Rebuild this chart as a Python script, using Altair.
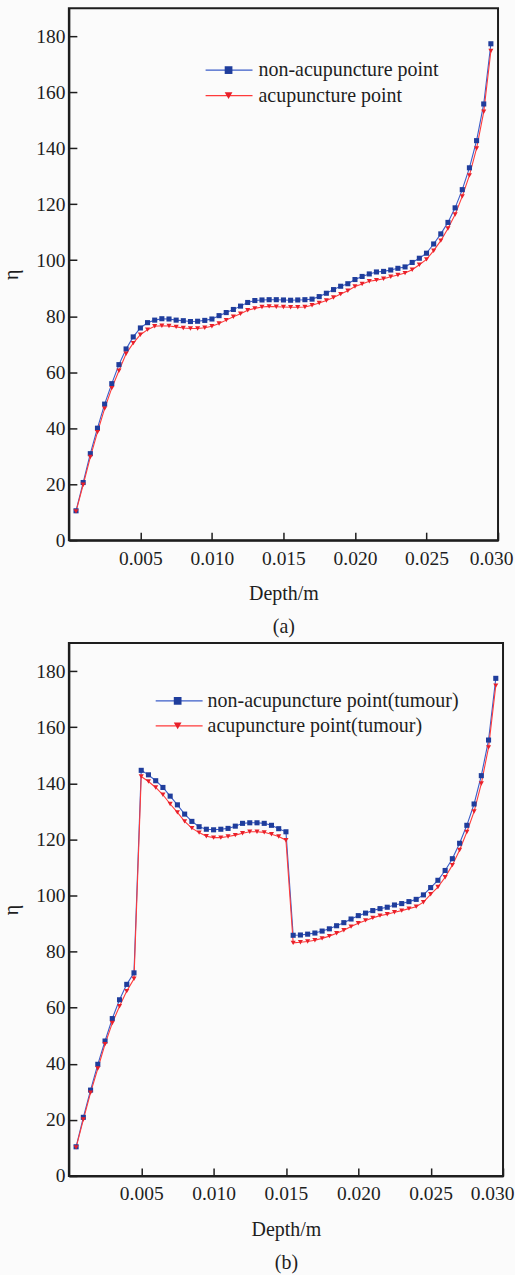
import altair as alt
import pandas as pd

# ---------------- data ----------------
depth = [0.0005, 0.0010, 0.0015, 0.0020, 0.0025, 0.0030, 0.0035, 0.0040, 0.0045, 0.0050,
         0.0055, 0.0060, 0.0065, 0.0070, 0.0075, 0.0080, 0.0085, 0.0090, 0.0095, 0.0100,
         0.0105, 0.0110, 0.0115, 0.0120, 0.0125, 0.0130, 0.0135, 0.0140, 0.0145, 0.0150,
         0.0155, 0.0160, 0.0165, 0.0170, 0.0175, 0.0180, 0.0185, 0.0190, 0.0195, 0.0200,
         0.0205, 0.0210, 0.0215, 0.0220, 0.0225, 0.0230, 0.0235, 0.0240, 0.0245, 0.0250,
         0.0255, 0.0260, 0.0265, 0.0270, 0.0275, 0.0280, 0.0285, 0.0290, 0.0295]

# panel (a)
a_non = [10.5, 20.6, 30.9, 40.0, 48.6, 55.9, 62.7, 68.3, 72.6, 75.8,
         77.7, 78.6, 79.1, 79.0, 78.6, 78.4, 78.1, 78.2, 78.5, 79.0,
         80.2, 81.3, 82.4, 83.6, 84.9, 85.6, 85.8, 85.9, 85.9, 85.8,
         85.7, 85.8, 85.9, 86.1, 87.0, 88.2, 89.5, 90.7, 91.6, 93.1,
         94.2, 95.1, 95.8, 96.0, 96.5, 97.1, 97.6, 99.2, 100.7, 102.5,
         105.8, 109.4, 113.5, 118.7, 125.2, 133.0, 142.7, 155.8, 177.3]
a_acu = [10.3, 19.8, 29.7, 38.6, 47.0, 54.3, 60.5, 66.6, 70.4, 73.4,
         75.2, 76.4, 76.6, 76.5, 76.2, 75.8, 75.6, 75.6, 75.9, 76.4,
         77.4, 78.6, 79.8, 80.9, 82.1, 82.8, 83.3, 83.5, 83.4, 83.3,
         83.2, 83.2, 83.3, 83.9, 84.7, 85.6, 86.7, 87.9, 89.1, 90.6,
         91.5, 92.5, 92.9, 93.4, 94.1, 94.7, 95.4, 96.6, 98.4, 100.3,
         103.4, 107.0, 111.3, 116.3, 122.8, 130.3, 139.9, 153.0, 174.7]

# panel (b)
b_non = [10.4, 20.9, 30.6, 39.8, 48.1, 56.1, 62.8, 68.3, 72.4, 144.6,
         143.0, 140.9, 138.5, 135.4, 132.3, 129.0, 126.4, 124.5, 123.6, 123.4,
         123.6, 123.9, 124.7, 125.7, 125.9, 125.9, 125.7, 125.0, 123.8, 122.7,
         85.8, 85.9, 86.2, 86.6, 87.3, 88.1, 89.2, 90.3, 91.6, 92.8,
         93.7, 94.6, 95.3, 95.8, 96.6, 97.1, 97.8, 98.6, 100.2, 102.8,
         105.4, 108.9, 113.1, 118.6, 125.0, 132.6, 142.7, 155.4, 177.4]
b_acu = [10.2, 20.1, 29.7, 38.3, 47.0, 54.5, 60.5, 65.9, 70.3, 142.4,
         140.6, 138.5, 135.9, 132.6, 129.6, 126.4, 124.0, 122.4, 121.1, 120.6,
         120.6, 121.0, 121.5, 122.2, 122.7, 122.7, 122.5, 121.8, 121.0, 119.7,
         83.1, 83.3, 83.6, 84.0, 84.7, 85.5, 86.5, 87.6, 88.9, 90.1,
         91.1, 92.0, 92.8, 93.3, 94.0, 94.6, 95.3, 96.0, 97.6, 100.4,
         103.0, 106.5, 110.8, 116.2, 122.6, 129.9, 139.9, 152.8, 174.8]

labels_a = ["non-acupuncture point", "acupuncture point"]
labels_b = ["non-acupuncture point(tumour)", "acupuncture point(tumour)"]
captions = ["(a)", "(b)"]
x_ticks = [0.005, 0.010, 0.015, 0.020, 0.025, 0.030]
y_ticks = [0, 20, 40, 60, 80, 100, 120, 140, 160, 180]

# ---------------- style ----------------
FONT = "Times New Roman, Liberation Serif, serif"
BG = "#fbfbfb"
INK = "#1e1e1e"
BLUE_LINE = "#3a5cc8"
BLUE_MARK = "#1f3d9c"
RED_LINE = "#ff3a3a"
RED_MARK = "#e8202a"


def panel(non, acu, labels, caption, width, height, leg, flush_off):
    df = pd.DataFrame({
        "depth": depth + depth,
        "eta": non + acu,
        "series": [labels[0]] * len(depth) + [labels[1]] * len(depth),
    })
    xs = alt.Scale(domain=[0, 0.030], nice=False, zero=False)
    ys = alt.Scale(domain=[0, 190], nice=False)
    xaxis = alt.Axis(values=x_ticks, format=".3f", title=["Depth/m", caption],
                     grid=False, domainColor=INK, domainWidth=2,
                     labelFlush=True, labelFlushOffset=flush_off,
                     tickColor=INK, tickWidth=1.5, tickSize=alt.ExprRef(expr="-8"),
                     labelFont=FONT, labelFontSize=19.5, labelColor=INK, labelPadding=17,
                     titleFont=FONT, titleFontSize=20, titleFontWeight="normal",
                     titleColor=INK, titlePadding=16, titleLineHeight=33)
    yaxis = alt.Axis(values=y_ticks, title="η", grid=False, domainColor=INK, domainWidth=2,
                     tickColor=INK, tickWidth=1.5, tickSize=alt.ExprRef(expr="-8"),
                     labelFont=FONT, labelFontSize=19.5, labelColor=INK, labelPadding=12,
                     labelFlush=False,
                     titleFont=FONT, titleFontSize=20, titleFontWeight="normal",
                     titleColor=INK, titlePadding=14)
    base = alt.Chart(df)
    X = alt.X("depth:Q", scale=xs, axis=xaxis)
    Y = alt.Y("eta:Q", scale=ys, axis=yaxis)
    line = base.mark_line(strokeWidth=1.1).encode(
        x=X, y=Y,
        stroke=alt.Stroke("series:N", scale=alt.Scale(domain=labels, range=[BLUE_LINE, RED_LINE]), legend=None),
    )
    pts = base.mark_point(filled=True, opacity=1, size=26).encode(
        x=X, y=Y,
        fill=alt.Fill("series:N", scale=alt.Scale(domain=labels, range=[BLUE_MARK, RED_MARK]), legend=None),
        shape=alt.Shape("series:N", scale=alt.Scale(domain=labels, range=["square", "triangle-down"]), legend=None),
    )
    layers = [line, pts]
    x0, x1, mx, tx, y1, dy = leg
    for i, (lab, lc, mc, shp) in enumerate(zip(labels, [BLUE_LINE, RED_LINE], [BLUE_MARK, RED_MARK],
                                                ["square", "triangle-down"])):
        d = pd.DataFrame({"label": [lab]})
        yy = y1 + i * dy
        layers.append(alt.Chart(d).mark_rule(color=lc, strokeWidth=1.3).encode(
            x=alt.value(x0), x2=alt.value(x1), y=alt.value(yy)))
        layers.append(alt.Chart(d).mark_point(filled=True, opacity=1, shape=shp, size=60, color=mc).encode(
            x=alt.value(mx), y=alt.value(yy)))
        layers.append(alt.Chart(d).mark_text(align="left", baseline="middle", font=FONT, fontSize=20,
                                             color=INK).encode(
            x=alt.value(tx), y=alt.value(yy), text="label:N"))
    return alt.layer(*layers).properties(width=width, height=height)


top = panel(a_non, a_acu, labels_a, captions[0], 430, 533, (137, 184, 160, 190, 62, 25.6), 15)
bottom = panel(b_non, b_acu, labels_b, captions[1], 435, 534, (87, 134, 109, 139, 58, 25), 11)

chart = alt.vconcat(top, bottom, spacing=4).properties(
    background=BG,
    padding={"left": 0, "top": 6, "right": 0, "bottom": 0},
).configure_view(stroke=INK, strokeWidth=2, fill=BG)

chart.save("out.html", embed_options={"renderer": "svg", "actions": False})
